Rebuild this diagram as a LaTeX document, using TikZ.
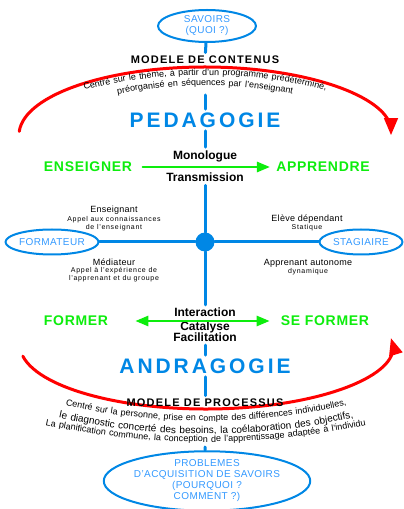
\documentclass[tikz,border=0pt]{standalone}
\usepackage{fontspec}
\setmainfont{Liberation Sans}
\usepackage{pgf,tikz}
\usetikzlibrary{arrows,shapes.geometric,decorations.text}
\definecolor{qqzzgg}{rgb}{0,0.53,0.9}
\definecolor{zzuuff}{rgb}{0.2,0.6,1}
\definecolor{qqhhqq}{rgb}{0.05,0.93,0.05}
\definecolor{ffqqqq}{rgb}{1,0,0}
\newcommand\courbe[2]{\fontsize{#1}{10}\selectfont\addfontfeature{LetterSpace=#2}}
\tikzset{
  bulle/.style={ellipse,draw=qqzzgg,line width=2pt,text=zzuuff,inner sep=0pt,align=center,
    font=\fontsize{10}{11}\selectfont\addfontfeature{LetterSpace=4}},
  trait/.style={color=qqzzgg,line width=3pt},
  titre/.style={font=\bfseries\fontsize{11}{13}\selectfont\addfontfeature{LetterSpace=11}},
  discipline/.style={text=qqzzgg,font=\bfseries\fontsize{21}{24}\selectfont\addfontfeature{LetterSpace=14}},
  verbe/.style={text=qqhhqq,font=\bfseries\fontsize{14}{16}\selectfont\addfontfeature{LetterSpace=5}},
  relation/.style={anchor=base,font=\bfseries\fontsize{12}{14}\selectfont},
  role/.style={font=\fontsize{9}{10}\selectfont\addfontfeature{LetterSpace=3}},
  detail/.style={font=\fontsize{7}{8}\selectfont\addfontfeature{LetterSpace=10}}
}
\begin{document}
\begin{tikzpicture}[line cap=round,line join=round,>=triangle 45,x=1.0pt,y=1.0pt]
\useasboundingbox (0,0) rectangle (404,509);
% arcs rouges
\draw[->,color=ffqqqq,line width=3pt] (205,374) ++(177:186 and 68) arc (177:0:186 and 68);
\draw[->,color=ffqqqq,line width=3pt] (206,164) ++(190:186 and 64) arc (190:366:186 and 64);
% axe pedagogie
\node[bulle,minimum width=98,minimum height=32] (savoirs) at (207,483) {SAVOIRS\\(QUOI ?)};
\node[titre] (contenus) at (205,449) {MODELE DE CONTENUS};
\path[decorate,decoration={text along path,text align=center,
  text={|\courbe{9}{8}|Centré sur le thème, à partir d'un programme prédéterminé,}}] (58,412) .. controls (157,441.3) and (253,441.3) .. (352,412);
\path[decorate,decoration={text along path,text align=center,
  text={|\courbe{9}{10}|préorganisé en séquences par l'enseignant}}] (100,411) .. controls (170,427.7) and (240,427.7) .. (310,411);
\coordinate (contbas) at (205,414);
\node[discipline] (peda) at (205,389) {PEDAGOGIE};
\node[relation] (mono) at (205,349.7) {Monologue};
\node[relation] (trans) at (205,327.3) {Transmission};
\node[verbe] (enseigner) at (88,342) {ENSEIGNER};
\node[verbe] (apprendre) at (323,342) {APPRENDRE};
% axe horizontal
\node[circle,fill=qqzzgg,minimum size=19,inner sep=0pt] (centre) at (205,267) {};
\node[bulle,minimum width=86,minimum height=25] (formateur) at (52,267) {FORMATEUR};
\node[bulle,minimum width=83,minimum height=25] (stagiaire) at (361,267) {STAGIAIRE};
\node[role] (enseignant) at (114,299) {Enseignant};
\node[detail] (appel1) at (114,289) {Appel aux connaissances};
\node[detail] (appel1b) at (114,281) {de l'enseignant};
\node[role] (mediateur) at (114,247) {Médiateur};
\node[detail] (appel2) at (114,238) {Appel à l'expérience de};
\node[detail] (appel2b) at (114,230) {l'apprenant et du groupe};
\node[role] (eleve) at (307,290) {Elève dépendant};
\node[detail] (statique) at (307,281) {Statique};
\node[role] (autonome) at (308,246) {Apprenant autonome};
\node[detail] (dynamique) at (308,237) {dynamique};
% axe andragogie
\node[relation] (inter) at (205,192) {Interaction};
\node[relation] (catal) at (205,178) {Catalyse};
\node[relation] (facil) at (205,167.5) {Facilitation};
\node[verbe] (former) at (76,188) {FORMER};
\node[verbe] (seformer) at (325,188) {SE FORMER};
\node[discipline] (andra) at (205,143) {ANDRAGOGIE};
\node[titre] (processus) at (205,106) {MODELE DE PROCESSUS};
\path[decorate,decoration={text along path,text align=center,
  text={|\courbe{9}{6}|Centré sur la personne, prise en compte des différences individuelles,}}] (55,106) .. controls (155,82) and (255.7,82) .. (357,106);
\path[decorate,decoration={text along path,text align=center,
  text={|\courbe{10}{8}|le diagnostic concerté des besoins, la coélaboration des objectifs,}}] (46,94) .. controls (152.7,68.7) and (258,68.7) .. (366,94);
\path[decorate,decoration={text along path,text align=center,
  text={|\courbe{9}{9}|La planification commune, la conception de l'apprentissage adaptée à l'individu}}] (31,87) .. controls (147.7,60.3) and (263,60.3) .. (380,87);
\coordinate (procbas) at (205,62);
\node[bulle,minimum width=180,minimum height=54] (problemes) at (207,28) {PROBLEMES\\D'ACQUISITION DE SAVOIRS\\(POURQUOI ?\\COMMENT ?)};
% liaisons
\draw[trait] (savoirs) -- (contenus);
\draw[trait] (contbas) -- (peda);
\draw[trait] (peda) -- (mono);
\draw[trait] (trans) -- (centre);
\draw[trait] (centre) -- (inter);
\draw[trait] (facil) -- (andra);
\draw[trait] (andra) -- (processus);
\draw[trait] (procbas) -- (problemes);
\draw[trait] (formateur) -- (centre);
\draw[trait] (centre) -- (stagiaire);
\draw[->,color=qqhhqq,line width=2pt,shorten <=7pt,shorten >=3pt] (enseigner) -- (apprendre);
\draw[<->,color=qqhhqq,line width=2pt,shorten <=24pt,shorten >=8pt] (former) -- (seformer);
\end{tikzpicture}
\end{document}
